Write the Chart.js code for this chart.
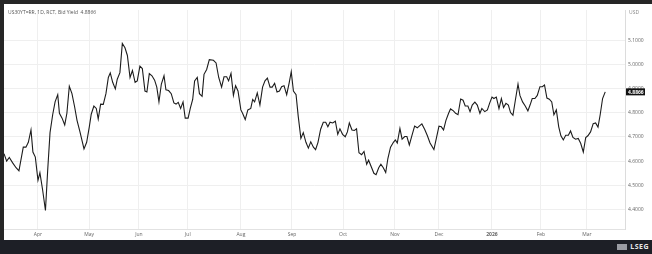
<!DOCTYPE html>
<html>
<head>
<meta charset="utf-8">
<script src="https://cdn.jsdelivr.net/npm/chart.js@4.4.1/dist/chart.umd.min.js"></script>
<style>
  html, body { margin: 0; padding: 0; }
  body { width: 652px; height: 254px; background: #262626; position: relative; overflow: hidden; font-family: "Open Sans", sans-serif; }
  #wrap { position: absolute; left: 4px; top: 4px; width: 648px; height: 236px; background: #fff; }
  #band { position: absolute; left: 0; top: 240px; width: 652px; height: 14px; background: #1d1f26; }
  #logo { position: absolute; right: 3px; top: 2px; color: #e8e8e8; font: bold 7px "Open Sans", sans-serif; letter-spacing: 0.5px; }
  #logo span { display: inline-block; width: 10px; height: 6px; background: #9a9ca3; margin-right: 3px; vertical-align: -1px; }
</style>
</head>
<body>
<div id="wrap"><canvas id="chart"></canvas></div>
<div id="band"><div id="logo"><span></span>LSEG</div></div>
<script>
// trading-day index (0 = first day shown) and bid yield
const dayIndex = [
  0, 1.1, 2.2, 3.6, 5.0, 6.2, 8.0, 9.1, 10.1, 11.2, 12.0, 13.0, 14.1, 14.9, 16.0, 17.2, 18.1, 19.1, 20.2, 21.2,
  22.3, 23.0, 24.1, 25.2, 26.1, 27.1, 28.2, 29.3, 30.3, 31.5, 33.2, 34.3, 35.4, 36.2, 37.3, 38.3, 39.1, 40.1, 41.2, 42.3,
  43.3, 44.1, 45.1, 46.2, 47.0, 48.1, 49.1,
  50.2, 51.2, 52.3, 53.3, 54.4, 55.3, 56.4, 57.4, 58.5, 59.3, 60.3, 61.4, 62.5, 63.4, 64.3, 65.3, 66.4, 67.2, 68.3, 69.4,
  70.5, 71.4, 72.3, 73.3, 74.3, 75.2, 76.4, 77.3, 78.3, 79.1, 80.2, 81.1, 82.2, 83.0, 84.1, 85.2, 86.9, 88.0, 89.1, 90.3,
  91.3, 92.4, 93.2, 94.2, 95.2, 96.1, 97.1, 98.3,
  99.0, 100.1, 101.2, 102.4, 103.2, 104.0, 105.1, 106.2, 107.3, 108.3, 109.3, 110.4, 111.3, 112.3, 113.3, 114.3, 115.2, 116.2, 117.3, 118.3,
  119.2, 120.1, 121.2, 122.1, 123.2, 124.2, 125.3, 126.3, 127.3, 128.4, 129.3, 130.3, 131.4, 132.5, 133.5, 134.4, 135.3, 136.4, 137.5, 138.5,
  139.4, 140.5, 141.6, 142.5, 143.3, 144.4, 145.4, 146.3, 147.3, 148.4,
  149.4, 150.5, 151.3, 152.4, 153.5, 154.4, 155.5, 156.4, 157.4, 158.4, 159.3, 160.4, 161.6, 162.4, 163.2, 164.3, 165.2, 166.3, 167.2, 168.2,
  169.3, 170.4, 171.5, 172.3, 173.4, 174.6, 175.7, 176.8, 178.4, 179.5, 180.5, 181.5, 182.4, 183.4, 184.5, 185.3, 186.5, 187.4, 188.4, 189.5,
  190.5, 191.4, 192.5, 193.4, 194.3, 195.4, 196.4, 197.5, 198.3, 199.5,
  200.6, 201.5, 202.5, 203.3, 204.3, 205.4, 206.4, 207.3, 208.3, 209.3, 210.2, 211.2, 212.2, 213.3, 214.1, 215.2, 216.3, 217.4, 218.3, 219.2,
  220.3, 221.3, 222.4, 223.4, 224.3, 225.3, 226.3, 227.3, 228.2, 229.2, 230.2, 231.1, 232.1, 233.1, 234.2, 235.1, 236.1, 237.2, 238.3, 239.3,
  240.4, 241.4, 242.3, 243.4, 244.5, 245.5, 246.5, 247.4, 248.4, 249.5
];
const yieldValues = [
  4.631, 4.600, 4.615, 4.593, 4.573, 4.560, 4.658, 4.658, 4.678, 4.729, 4.638, 4.617, 4.521, 4.552, 4.483, 4.396, 4.557, 4.718, 4.792, 4.845,
  4.875, 4.798, 4.778, 4.750, 4.798, 4.910, 4.879, 4.825, 4.769, 4.722, 4.651, 4.678, 4.742, 4.794, 4.828, 4.818, 4.774, 4.836, 4.835, 4.879,
  4.946, 4.965, 4.926, 4.899, 4.939, 4.966, 5.087,
  5.069, 5.037, 4.946, 4.975, 4.926, 4.932, 4.993, 4.983, 4.890, 4.886, 4.962, 4.953, 4.935, 4.906, 4.845, 4.919, 4.953, 4.895, 4.892, 4.879,
  4.841, 4.836, 4.843, 4.818, 4.845, 4.778, 4.778, 4.818, 4.855, 4.932, 4.946, 4.879, 4.868, 4.959, 4.979, 5.020, 5.017, 5.006, 4.946, 4.906,
  4.949, 4.949, 4.932, 4.963, 4.872, 4.912, 4.890, 4.812,
  4.798, 4.772, 4.812, 4.818, 4.855, 4.845, 4.882, 4.832, 4.906, 4.932, 4.943, 4.906, 4.906, 4.922, 4.886, 4.890, 4.908, 4.912, 4.875, 4.922,
  4.970, 4.890, 4.875, 4.785, 4.694, 4.718, 4.678, 4.654, 4.680, 4.658, 4.648, 4.678, 4.732, 4.761, 4.761, 4.742, 4.761, 4.758, 4.765, 4.711,
  4.734, 4.711, 4.701, 4.721, 4.758, 4.729, 4.727, 4.734, 4.635, 4.627,
  4.640, 4.587, 4.604, 4.577, 4.550, 4.544, 4.573, 4.587, 4.573, 4.553, 4.611, 4.658, 4.678, 4.688, 4.675, 4.735, 4.691, 4.702, 4.702, 4.667,
  4.707, 4.745, 4.738, 4.745, 4.754, 4.731, 4.705, 4.675, 4.648, 4.698, 4.745, 4.742, 4.729, 4.769, 4.798, 4.816, 4.808, 4.798, 4.792, 4.857,
  4.852, 4.828, 4.828, 4.805, 4.832, 4.844, 4.832, 4.798, 4.818, 4.805,
  4.812, 4.839, 4.865, 4.859, 4.865, 4.817, 4.859, 4.822, 4.839, 4.832, 4.801, 4.790, 4.852, 4.919, 4.872, 4.845, 4.828, 4.808, 4.832, 4.859,
  4.859, 4.872, 4.908, 4.908, 4.915, 4.861, 4.856, 4.845, 4.792, 4.812, 4.742, 4.705, 4.688, 4.707, 4.707, 4.725, 4.698, 4.691, 4.694, 4.674,
  4.638, 4.698, 4.705, 4.721, 4.755, 4.758, 4.741, 4.792, 4.859, 4.8866
];
const monthTicks = [14.1, 35.3, 56.0, 76.3, 98.3, 119.5, 140.7, 162.2, 180.5, 202.5, 222.8, 241.9];
const monthLabels = ['Apr', 'May', 'Jun', 'Jul', 'Aug', 'Sep', 'Oct', 'Nov', 'Dec', '2026', 'Feb', 'Mar'];
const yTicks = [4.4, 4.5, 4.6, 4.7, 4.8, 4.9, 5.0, 5.1];
const lastYield = 4.8866;
const titleText = 'US30YT=RR, 1D, RCT, Bid Yield  4.8866';

const FONT = '"Open Sans", sans-serif';

const overlay = {
  id: 'overlay',
  afterDraw(chart) {
    const ctx = chart.ctx;
    const y = chart.scales.y;
    ctx.save();
    ctx.font = '5px ' + FONT;
    ctx.fillStyle = '#555';
    ctx.textBaseline = 'middle';
    ctx.textAlign = 'left';
    ctx.fillText(titleText, 4, 8.5);
    ctx.fillStyle = '#888';
    ctx.fillText('USD', chart.chartArea.right + 4, 8.5);
    // last price tag
    const py = y.getPixelForValue(lastYield);
    ctx.fillStyle = '#111';
    ctx.fillRect(chart.chartArea.right + 1, py - 3.5, 19, 7);
    ctx.fillStyle = '#fff';
    ctx.font = 'bold 5px ' + FONT;
    ctx.fillText(lastYield.toFixed(4), chart.chartArea.right + 3, py + 0.3);
    ctx.restore();
  }
};

new Chart(document.getElementById('chart'), {
  type: 'line',
  data: {
    datasets: [{
      data: dayIndex.map((d, i) => ({ x: d, y: yieldValues[i] })),
      borderColor: '#1c1c1c',
      borderWidth: 1.1,
      pointRadius: 0,
      tension: 0
    }]
  },
  options: {
    responsive: true,
    maintainAspectRatio: false,
    animation: false,
    layout: { padding: 0 },
    plugins: { legend: { display: false }, tooltip: { enabled: false } },
    scales: {
      x: {
        type: 'linear',
        min: 0,
        max: 257.7,
        afterBuildTicks: (s) => { s.ticks = monthTicks.map(v => ({ value: v })); },
        afterFit: (s) => { s.height = 11; },
        grid: { color: '#efefef', drawTicks: false },
        border: { color: '#e2e2e2' },
        ticks: {
          autoSkip: false,
          maxRotation: 0,
          padding: 3,
          color: '#666',
          font: (c) => ({ size: 5, family: FONT, weight: c.tick && c.tick.value === 202.5 ? 'bold' : 'normal' }),
          callback: (v, i) => monthLabels[i]
        }
      },
      y: {
        position: 'right',
        min: 4.3196,
        max: 5.225,
        afterBuildTicks: (s) => { s.ticks = yTicks.map(v => ({ value: v })); },
        afterFit: (s) => { s.width = 27; },
        grid: { color: '#efefef', drawTicks: false },
        border: { color: '#dcdcdc' },
        ticks: {
          padding: 3,
          color: '#666',
          font: { size: 5, family: FONT },
          callback: (v) => Number(v).toFixed(4)
        }
      }
    }
  },
  plugins: [overlay]
});
</script>
</body>
</html>
